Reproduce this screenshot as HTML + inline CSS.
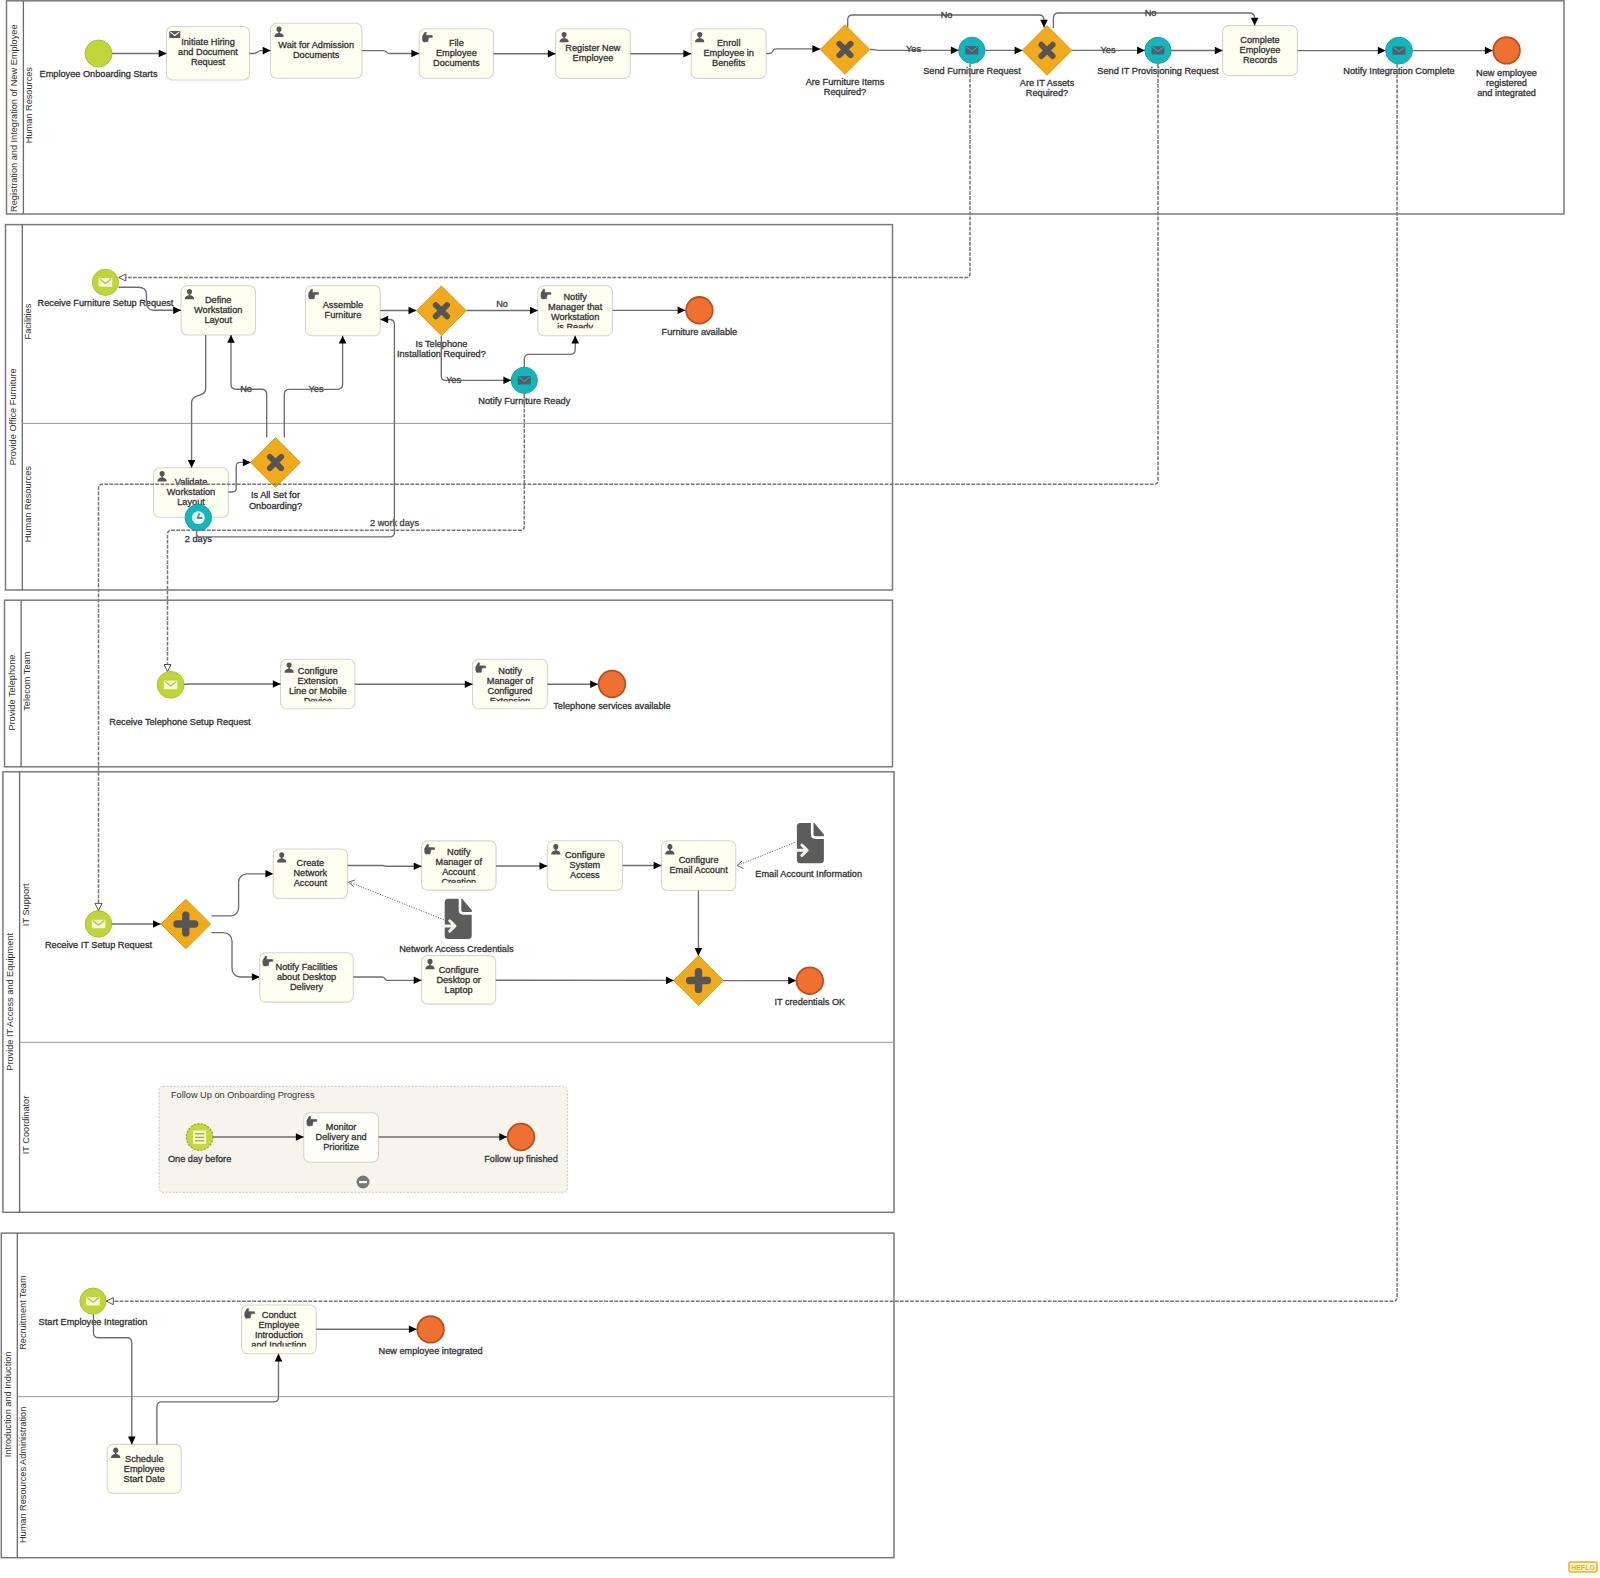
<!DOCTYPE html>
<html><head><meta charset="utf-8"><title>BPMN Employee Onboarding</title>
<style>html,body{margin:0;padding:0;background:#fff;width:1600px;height:1578px;overflow:hidden}svg{display:block}text{font-family:"Liberation Sans",sans-serif}</style>
</head><body>
<svg width="1600" height="1578" viewBox="0 0 1600 1578" font-family='&quot;Liberation Sans&quot;, sans-serif'><defs><clipPath id="c1"><rect x="537.80" y="285.70" width="74.70" height="42.60"/></clipPath><clipPath id="c2"><rect x="280.60" y="659.20" width="74.30" height="42.10"/></clipPath><clipPath id="c3"><rect x="472.60" y="659.20" width="74.80" height="42.10"/></clipPath><clipPath id="c4"><rect x="421.50" y="840.90" width="74.50" height="41.80"/></clipPath><clipPath id="c5"><rect x="241.60" y="1305.00" width="74.60" height="41.40"/></clipPath></defs><rect width="1600" height="1578" fill="#fff"/><rect x="6.50" y="0.80" width="1557.50" height="213.20" fill="none" stroke="#7a7a7a" stroke-width="1.5"/>
<line x1="23.40" y1="0.80" x2="23.40" y2="214.00" stroke="#6a6a6a" stroke-width="1.3"/>
<text x="13.95" y="118.20" font-size="9.2" text-anchor="middle" dominant-baseline="central" fill="#333" transform="rotate(-90 13.95 118.20)">Registration and Integration of New Employee</text>
<text x="29.40" y="105.10" font-size="9.2" text-anchor="middle" dominant-baseline="central" fill="#333" transform="rotate(-90 29.40 105.10)">Human Resources</text>
<rect x="5.50" y="224.60" width="887.00" height="365.40" fill="none" stroke="#7a7a7a" stroke-width="1.5"/>
<line x1="22.30" y1="224.60" x2="22.30" y2="590.00" stroke="#6a6a6a" stroke-width="1.3"/>
<text x="12.90" y="416.90" font-size="9.2" text-anchor="middle" dominant-baseline="central" fill="#333" transform="rotate(-90 12.90 416.90)">Provide Office Furniture</text>
<text x="28.30" y="321.60" font-size="9.2" text-anchor="middle" dominant-baseline="central" fill="#333" transform="rotate(-90 28.30 321.60)">Facilities</text>
<line x1="22.30" y1="423.40" x2="892.50" y2="423.40" stroke="#999" stroke-width="1"/>
<text x="28.30" y="504.20" font-size="9.2" text-anchor="middle" dominant-baseline="central" fill="#333" transform="rotate(-90 28.30 504.20)">Human Resources</text>
<rect x="4.50" y="600.20" width="888.00" height="166.60" fill="none" stroke="#7a7a7a" stroke-width="1.5"/>
<line x1="21.10" y1="600.20" x2="21.10" y2="766.80" stroke="#6a6a6a" stroke-width="1.3"/>
<text x="11.80" y="692.60" font-size="9.2" text-anchor="middle" dominant-baseline="central" fill="#333" transform="rotate(-90 11.80 692.60)">Provide Telephone</text>
<text x="27.10" y="681.20" font-size="9.2" text-anchor="middle" dominant-baseline="central" fill="#333" transform="rotate(-90 27.10 681.20)">Telecom Team</text>
<rect x="2.90" y="771.80" width="891.10" height="440.50" fill="none" stroke="#7a7a7a" stroke-width="1.5"/>
<line x1="19.60" y1="771.80" x2="19.60" y2="1212.30" stroke="#6a6a6a" stroke-width="1.3"/>
<text x="10.25" y="1001.85" font-size="9.2" text-anchor="middle" dominant-baseline="central" fill="#333" transform="rotate(-90 10.25 1001.85)">Provide IT Access and Equipment</text>
<text x="25.60" y="904.75" font-size="9.2" text-anchor="middle" dominant-baseline="central" fill="#333" transform="rotate(-90 25.60 904.75)">IT Support</text>
<line x1="19.60" y1="1042.30" x2="894.00" y2="1042.30" stroke="#999" stroke-width="1"/>
<text x="25.60" y="1125.00" font-size="9.2" text-anchor="middle" dominant-baseline="central" fill="#333" transform="rotate(-90 25.60 1125.00)">IT Coordinator</text>
<rect x="1.30" y="1233.10" width="892.70" height="324.60" fill="none" stroke="#7a7a7a" stroke-width="1.5"/>
<line x1="17.30" y1="1233.10" x2="17.30" y2="1557.70" stroke="#6a6a6a" stroke-width="1.3"/>
<text x="8.30" y="1404.40" font-size="9.2" text-anchor="middle" dominant-baseline="central" fill="#333" transform="rotate(-90 8.30 1404.40)">Introduction and Induction</text>
<text x="23.30" y="1312.60" font-size="9.2" text-anchor="middle" dominant-baseline="central" fill="#333" transform="rotate(-90 23.30 1312.60)">Recruitment Team</text>
<line x1="17.30" y1="1396.70" x2="894.00" y2="1396.70" stroke="#999" stroke-width="1"/>
<text x="23.30" y="1474.90" font-size="9.2" text-anchor="middle" dominant-baseline="central" fill="#333" transform="rotate(-90 23.30 1474.90)">Human Resources Administration</text>
<circle cx="98.50" cy="53.50" r="13.50" fill="#bfd639" stroke="#adc23a" stroke-width="1"/>
<text x="98.50" y="74.30" font-size="9.2" text-anchor="middle" dominant-baseline="central" fill="#333" stroke="#333" stroke-width="0.3">Employee Onboarding Starts</text>
<rect x="166.50" y="26.50" width="83.00" height="53.50" rx="6" fill="#fefef1" stroke="#d6d6cc" stroke-width="1.1"/>
<rect x="169.30" y="31.10" width="11.00" height="7.00" rx="0.8" fill="#555"/>
<path d="M170.30,31.90 L174.80,35.44 L179.30,31.90" fill="none" stroke="#fff" stroke-width="1.1"/>
<text x="208.00" y="42.45" font-size="9.2" text-anchor="middle" dominant-baseline="central" fill="#333" stroke="#333" stroke-width="0.3">Initiate Hiring</text>
<text x="208.00" y="52.45" font-size="9.2" text-anchor="middle" dominant-baseline="central" fill="#333" stroke="#333" stroke-width="0.3">and Document</text>
<text x="208.00" y="62.45" font-size="9.2" text-anchor="middle" dominant-baseline="central" fill="#333" stroke="#333" stroke-width="0.3">Request</text>
<rect x="270.50" y="23.30" width="91.40" height="55.00" rx="6" fill="#fefef1" stroke="#d6d6cc" stroke-width="1.1"/>
<ellipse cx="279.00" cy="29.20" rx="2.5" ry="2.7" fill="#555"/>
<rect x="278.20" y="31.30" width="1.6" height="2" fill="#555"/>
<path d="M274.40,36.90 C274.40,33.90 276.50,32.90 279.00,32.90 C281.50,32.90 283.60,33.90 283.60,36.90 Z" fill="#555"/>
<text x="316.20" y="45.00" font-size="9.2" text-anchor="middle" dominant-baseline="central" fill="#333" stroke="#333" stroke-width="0.3">Wait for Admission</text>
<text x="316.20" y="55.00" font-size="9.2" text-anchor="middle" dominant-baseline="central" fill="#333" stroke="#333" stroke-width="0.3">Documents</text>
<rect x="419.20" y="28.70" width="74.30" height="49.50" rx="6" fill="#fefef1" stroke="#d6d6cc" stroke-width="1.1"/>
<path d="M422.40,36.30 L424.80,32.30 L426.40,32.50 L425.80,35.30 L432.20,35.50 L432.40,37.30 L428.60,37.50 L427.80,41.70 L423.40,41.90 L422.40,40.10 Z" fill="#555" stroke="#555" stroke-width="0.6" stroke-linejoin="round"/>
<text x="456.35" y="42.65" font-size="9.2" text-anchor="middle" dominant-baseline="central" fill="#333" stroke="#333" stroke-width="0.3">File</text>
<text x="456.35" y="52.65" font-size="9.2" text-anchor="middle" dominant-baseline="central" fill="#333" stroke="#333" stroke-width="0.3">Employee</text>
<text x="456.35" y="62.65" font-size="9.2" text-anchor="middle" dominant-baseline="central" fill="#333" stroke="#333" stroke-width="0.3">Documents</text>
<rect x="555.60" y="28.70" width="74.70" height="49.70" rx="6" fill="#fefef1" stroke="#d6d6cc" stroke-width="1.1"/>
<ellipse cx="564.10" cy="34.60" rx="2.5" ry="2.7" fill="#555"/>
<rect x="563.30" y="36.70" width="1.6" height="2" fill="#555"/>
<path d="M559.50,42.30 C559.50,39.30 561.60,38.30 564.10,38.30 C566.60,38.30 568.70,39.30 568.70,42.30 Z" fill="#555"/>
<text x="592.95" y="47.75" font-size="9.2" text-anchor="middle" dominant-baseline="central" fill="#333" stroke="#333" stroke-width="0.3">Register New</text>
<text x="592.95" y="57.75" font-size="9.2" text-anchor="middle" dominant-baseline="central" fill="#333" stroke="#333" stroke-width="0.3">Employee</text>
<rect x="691.20" y="28.70" width="75.00" height="49.70" rx="6" fill="#fefef1" stroke="#d6d6cc" stroke-width="1.1"/>
<ellipse cx="699.70" cy="34.60" rx="2.5" ry="2.7" fill="#555"/>
<rect x="698.90" y="36.70" width="1.6" height="2" fill="#555"/>
<path d="M695.10,42.30 C695.10,39.30 697.20,38.30 699.70,38.30 C702.20,38.30 704.30,39.30 704.30,42.30 Z" fill="#555"/>
<text x="728.70" y="42.75" font-size="9.2" text-anchor="middle" dominant-baseline="central" fill="#333" stroke="#333" stroke-width="0.3">Enroll</text>
<text x="728.70" y="52.75" font-size="9.2" text-anchor="middle" dominant-baseline="central" fill="#333" stroke="#333" stroke-width="0.3">Employee in</text>
<text x="728.70" y="62.75" font-size="9.2" text-anchor="middle" dominant-baseline="central" fill="#333" stroke="#333" stroke-width="0.3">Benefits</text>
<path d="M820.20,49.50 L845.00,24.70 L869.80,49.50 L845.00,74.30 Z" fill="#f2aa1d" stroke="#e09812" stroke-width="1"/>
<path d="M839.30,43.80 L850.70,55.20 M850.70,43.80 L839.30,55.20" stroke="#555" stroke-width="5.8" stroke-linecap="round"/>
<text x="845.00" y="82.20" font-size="9.2" text-anchor="middle" dominant-baseline="central" fill="#333" stroke="#333" stroke-width="0.3">Are Furniture Items</text>
<text x="845.00" y="91.80" font-size="9.2" text-anchor="middle" dominant-baseline="central" fill="#333" stroke="#333" stroke-width="0.3">Required?</text>
<circle cx="971.80" cy="50.30" r="13.10" fill="#14b6be" stroke="#10a6ae" stroke-width="1"/>
<rect x="965.30" y="46.10" width="13.00" height="8.40" rx="0.8" fill="#585c68"/>
<path d="M966.30,46.90 L971.80,51.31 L977.30,46.90" fill="none" stroke="#1bb3ae" stroke-width="1.1"/>
<text x="972.00" y="71.20" font-size="9.2" text-anchor="middle" dominant-baseline="central" fill="#333" stroke="#333" stroke-width="0.3">Send Furniture Request</text>
<path d="M1022.20,50.40 L1047.00,25.60 L1071.80,50.40 L1047.00,75.20 Z" fill="#f2aa1d" stroke="#e09812" stroke-width="1"/>
<path d="M1041.30,44.70 L1052.70,56.10 M1052.70,44.70 L1041.30,56.10" stroke="#555" stroke-width="5.8" stroke-linecap="round"/>
<text x="1047.00" y="83.10" font-size="9.2" text-anchor="middle" dominant-baseline="central" fill="#333" stroke="#333" stroke-width="0.3">Are IT Assets</text>
<text x="1047.00" y="92.90" font-size="9.2" text-anchor="middle" dominant-baseline="central" fill="#333" stroke="#333" stroke-width="0.3">Required?</text>
<circle cx="1158.00" cy="50.40" r="13.10" fill="#14b6be" stroke="#10a6ae" stroke-width="1"/>
<rect x="1151.50" y="46.20" width="13.00" height="8.40" rx="0.8" fill="#585c68"/>
<path d="M1152.50,47.00 L1158.00,51.41 L1163.50,47.00" fill="none" stroke="#1bb3ae" stroke-width="1.1"/>
<text x="1158.00" y="71.20" font-size="9.2" text-anchor="middle" dominant-baseline="central" fill="#333" stroke="#333" stroke-width="0.3">Send IT Provisioning Request</text>
<rect x="1222.60" y="25.60" width="74.80" height="50.00" rx="6" fill="#fefef1" stroke="#d6d6cc" stroke-width="1.1"/>
<text x="1260.00" y="39.80" font-size="9.2" text-anchor="middle" dominant-baseline="central" fill="#333" stroke="#333" stroke-width="0.3">Complete</text>
<text x="1260.00" y="49.80" font-size="9.2" text-anchor="middle" dominant-baseline="central" fill="#333" stroke="#333" stroke-width="0.3">Employee</text>
<text x="1260.00" y="59.80" font-size="9.2" text-anchor="middle" dominant-baseline="central" fill="#333" stroke="#333" stroke-width="0.3">Records</text>
<circle cx="1399.00" cy="50.60" r="13.40" fill="#14b6be" stroke="#10a6ae" stroke-width="1"/>
<rect x="1392.50" y="46.40" width="13.00" height="8.40" rx="0.8" fill="#585c68"/>
<path d="M1393.50,47.20 L1399.00,51.61 L1404.50,47.20" fill="none" stroke="#1bb3ae" stroke-width="1.1"/>
<text x="1399.00" y="71.20" font-size="9.2" text-anchor="middle" dominant-baseline="central" fill="#333" stroke="#333" stroke-width="0.3">Notify Integration Complete</text>
<circle cx="1506.60" cy="50.40" r="13.30" fill="#f07031" stroke="#b9511f" stroke-width="1.8"/>
<text x="1506.50" y="72.60" font-size="9.2" text-anchor="middle" dominant-baseline="central" fill="#333" stroke="#333" stroke-width="0.3">New employee</text>
<text x="1506.50" y="82.60" font-size="9.2" text-anchor="middle" dominant-baseline="central" fill="#333" stroke="#333" stroke-width="0.3">registered</text>
<text x="1506.50" y="92.60" font-size="9.2" text-anchor="middle" dominant-baseline="central" fill="#333" stroke="#333" stroke-width="0.3">and integrated</text>
<path d="M112.00,53.50 L166.50,53.50" fill="none" stroke="#6e6e6e" stroke-width="1.35"/>
<path d="M166.50,53.50 L158.70,57.30 L158.70,49.70 Z" fill="#000"/>
<path d="M249.50,53.50 L254.00,53.50 Q256.00,53.50 257.44,52.11 L257.56,51.99 Q259.00,50.60 261.00,50.60 L270.50,50.60" fill="none" stroke="#6e6e6e" stroke-width="1.35"/>
<path d="M270.50,50.60 L262.70,54.40 L262.70,46.80 Z" fill="#000"/>
<path d="M362.00,50.60 L383.00,50.60 Q385.00,50.60 386.44,51.99 L386.56,52.11 Q388.00,53.50 390.00,53.50 L419.20,53.50" fill="none" stroke="#6e6e6e" stroke-width="1.35"/>
<path d="M419.20,53.50 L411.40,57.30 L411.40,49.70 Z" fill="#000"/>
<path d="M493.50,53.70 L555.60,53.70" fill="none" stroke="#6e6e6e" stroke-width="1.35"/>
<path d="M555.60,53.70 L547.80,57.50 L547.80,49.90 Z" fill="#000"/>
<path d="M630.30,53.70 L691.20,53.70" fill="none" stroke="#6e6e6e" stroke-width="1.35"/>
<path d="M691.20,53.70 L683.40,57.50 L683.40,49.90 Z" fill="#000"/>
<path d="M766.20,53.50 L769.50,53.50 Q771.50,53.50 772.46,51.74 L773.04,50.66 Q774.00,48.90 776.00,48.90 L820.20,48.90" fill="none" stroke="#6e6e6e" stroke-width="1.35"/>
<path d="M820.20,48.90 L812.40,52.70 L812.40,45.10 Z" fill="#000"/>
<path d="M870.00,49.50 L872.45,49.50 Q874.00,49.50 875.50,49.90 L875.50,49.90 Q877.00,50.30 878.55,50.30 L958.70,50.30" fill="none" stroke="#6e6e6e" stroke-width="1.35"/>
<path d="M958.70,50.30 L950.90,54.10 L950.90,46.50 Z" fill="#000"/>
<text x="913.50" y="49.40" font-size="9.2" text-anchor="middle" dominant-baseline="central" fill="#444" stroke="#444" stroke-width="0.3">Yes</text>
<path d="M847.70,27.00 L847.70,20.00 Q847.70,15.00 852.70,15.00 L1039.00,15.00 Q1044.00,15.00 1044.00,20.00 L1044.00,27.50" fill="none" stroke="#6e6e6e" stroke-width="1.35"/>
<path d="M1044.00,27.50 L1040.20,19.70 L1047.80,19.70 Z" fill="#000"/>
<text x="946.50" y="14.60" font-size="9.2" text-anchor="middle" dominant-baseline="central" fill="#444" stroke="#444" stroke-width="0.3">No</text>
<path d="M985.00,50.30 L1022.40,50.40" fill="none" stroke="#6e6e6e" stroke-width="1.35"/>
<path d="M1022.40,50.40 L1014.59,54.18 L1014.61,46.58 Z" fill="#000"/>
<path d="M1071.80,50.40 L1144.90,50.40" fill="none" stroke="#6e6e6e" stroke-width="1.35"/>
<path d="M1144.90,50.40 L1137.10,54.20 L1137.10,46.60 Z" fill="#000"/>
<text x="1108.00" y="50.00" font-size="9.2" text-anchor="middle" dominant-baseline="central" fill="#444" stroke="#444" stroke-width="0.3">Yes</text>
<path d="M1053.40,28.00 L1053.40,18.00 Q1053.40,13.00 1058.40,13.00 L1249.60,13.00 Q1254.60,13.00 1254.60,18.00 L1254.60,25.60" fill="none" stroke="#6e6e6e" stroke-width="1.35"/>
<path d="M1254.60,25.60 L1250.80,17.80 L1258.40,17.80 Z" fill="#000"/>
<text x="1150.60" y="12.80" font-size="9.2" text-anchor="middle" dominant-baseline="central" fill="#444" stroke="#444" stroke-width="0.3">No</text>
<path d="M1171.20,50.50 L1222.60,50.50" fill="none" stroke="#6e6e6e" stroke-width="1.35"/>
<path d="M1222.60,50.50 L1214.80,54.30 L1214.80,46.70 Z" fill="#000"/>
<path d="M1297.40,50.60 L1385.60,50.60" fill="none" stroke="#6e6e6e" stroke-width="1.35"/>
<path d="M1385.60,50.60 L1377.80,54.40 L1377.80,46.80 Z" fill="#000"/>
<path d="M1412.40,50.60 L1492.70,50.60" fill="none" stroke="#6e6e6e" stroke-width="1.35"/>
<path d="M1492.70,50.60 L1484.90,54.40 L1484.90,46.80 Z" fill="#000"/>
<circle cx="105.40" cy="282.30" r="13.10" fill="#bfd639" stroke="#adc23a" stroke-width="1"/>
<rect x="98.60" y="278.10" width="13.60" height="8.60" rx="0.8" fill="#f4f8d6"/>
<path d="M99.60,278.90 L105.40,283.43 L111.20,278.90" fill="none" stroke="#a9bf3a" stroke-width="1.1"/>
<text x="105.50" y="303.40" font-size="9.2" text-anchor="middle" dominant-baseline="central" fill="#333" stroke="#333" stroke-width="0.3">Receive Furniture Setup Request</text>
<rect x="181.00" y="285.70" width="74.40" height="49.30" rx="6" fill="#fefef1" stroke="#d6d6cc" stroke-width="1.1"/>
<ellipse cx="189.50" cy="291.60" rx="2.5" ry="2.7" fill="#555"/>
<rect x="188.70" y="293.70" width="1.6" height="2" fill="#555"/>
<path d="M184.90,299.30 C184.90,296.30 187.00,295.30 189.50,295.30 C192.00,295.30 194.10,296.30 194.10,299.30 Z" fill="#555"/>
<text x="218.20" y="299.55" font-size="9.2" text-anchor="middle" dominant-baseline="central" fill="#333" stroke="#333" stroke-width="0.3">Define</text>
<text x="218.20" y="309.55" font-size="9.2" text-anchor="middle" dominant-baseline="central" fill="#333" stroke="#333" stroke-width="0.3">Workstation</text>
<text x="218.20" y="319.55" font-size="9.2" text-anchor="middle" dominant-baseline="central" fill="#333" stroke="#333" stroke-width="0.3">Layout</text>
<rect x="305.50" y="285.70" width="74.80" height="50.00" rx="6" fill="#fefef1" stroke="#d6d6cc" stroke-width="1.1"/>
<path d="M308.70,293.30 L311.10,289.30 L312.70,289.50 L312.10,292.30 L318.50,292.50 L318.70,294.30 L314.90,294.50 L314.10,298.70 L309.70,298.90 L308.70,297.10 Z" fill="#555" stroke="#555" stroke-width="0.6" stroke-linejoin="round"/>
<text x="342.90" y="304.90" font-size="9.2" text-anchor="middle" dominant-baseline="central" fill="#333" stroke="#333" stroke-width="0.3">Assemble</text>
<text x="342.90" y="314.90" font-size="9.2" text-anchor="middle" dominant-baseline="central" fill="#333" stroke="#333" stroke-width="0.3">Furniture</text>
<path d="M416.60,310.70 L441.40,285.90 L466.20,310.70 L441.40,335.50 Z" fill="#f2aa1d" stroke="#e09812" stroke-width="1"/>
<path d="M435.70,305.00 L447.10,316.40 M447.10,305.00 L435.70,316.40" stroke="#555" stroke-width="5.8" stroke-linecap="round"/>
<text x="441.40" y="343.60" font-size="9.2" text-anchor="middle" dominant-baseline="central" fill="#333" stroke="#333" stroke-width="0.3">Is Telephone</text>
<text x="441.40" y="353.60" font-size="9.2" text-anchor="middle" dominant-baseline="central" fill="#333" stroke="#333" stroke-width="0.3">Installation Required?</text>
<rect x="537.80" y="285.70" width="74.70" height="50.00" rx="6" fill="#fefef1" stroke="#d6d6cc" stroke-width="1.1"/>
<path d="M541.00,293.30 L543.40,289.30 L545.00,289.50 L544.40,292.30 L550.80,292.50 L551.00,294.30 L547.20,294.50 L546.40,298.70 L542.00,298.90 L541.00,297.10 Z" fill="#555" stroke="#555" stroke-width="0.6" stroke-linejoin="round"/>
<g clip-path="url(#c1)">
<text x="575.15" y="297.30" font-size="9.2" text-anchor="middle" dominant-baseline="central" fill="#333" stroke="#333" stroke-width="0.3">Notify</text>
<text x="575.15" y="307.30" font-size="9.2" text-anchor="middle" dominant-baseline="central" fill="#333" stroke="#333" stroke-width="0.3">Manager that</text>
<text x="575.15" y="317.30" font-size="9.2" text-anchor="middle" dominant-baseline="central" fill="#333" stroke="#333" stroke-width="0.3">Workstation</text>
<text x="575.15" y="327.30" font-size="9.2" text-anchor="middle" dominant-baseline="central" fill="#333" stroke="#333" stroke-width="0.3">is Ready</text>
</g>
<circle cx="699.40" cy="310.30" r="13.30" fill="#f07031" stroke="#b9511f" stroke-width="1.8"/>
<text x="699.40" y="332.20" font-size="9.2" text-anchor="middle" dominant-baseline="central" fill="#333" stroke="#333" stroke-width="0.3">Furniture available</text>
<circle cx="524.30" cy="380.30" r="13.10" fill="#14b6be" stroke="#10a6ae" stroke-width="1"/>
<rect x="517.80" y="376.10" width="13.00" height="8.40" rx="0.8" fill="#585c68"/>
<path d="M518.80,376.90 L524.30,381.31 L529.80,376.90" fill="none" stroke="#1bb3ae" stroke-width="1.1"/>
<text x="524.30" y="401.20" font-size="9.2" text-anchor="middle" dominant-baseline="central" fill="#333" stroke="#333" stroke-width="0.3">Notify Furniture Ready</text>
<rect x="153.60" y="467.80" width="74.80" height="49.50" rx="6" fill="#fefef1" stroke="#d6d6cc" stroke-width="1.1"/>
<ellipse cx="162.10" cy="473.70" rx="2.5" ry="2.7" fill="#555"/>
<rect x="161.30" y="475.80" width="1.6" height="2" fill="#555"/>
<path d="M157.50,481.40 C157.50,478.40 159.60,477.40 162.10,477.40 C164.60,477.40 166.70,478.40 166.70,481.40 Z" fill="#555"/>
<text x="191.00" y="482.35" font-size="9.2" text-anchor="middle" dominant-baseline="central" fill="#333" stroke="#333" stroke-width="0.3">Validate</text>
<text x="191.00" y="492.35" font-size="9.2" text-anchor="middle" dominant-baseline="central" fill="#333" stroke="#333" stroke-width="0.3">Workstation</text>
<text x="191.00" y="502.35" font-size="9.2" text-anchor="middle" dominant-baseline="central" fill="#333" stroke="#333" stroke-width="0.3">Layout</text>
<path d="M250.70,462.50 L275.50,437.70 L300.30,462.50 L275.50,487.30 Z" fill="#f2aa1d" stroke="#e09812" stroke-width="1"/>
<path d="M269.80,456.80 L281.20,468.20 M281.20,456.80 L269.80,468.20" stroke="#555" stroke-width="5.8" stroke-linecap="round"/>
<text x="275.50" y="495.25" font-size="9.2" text-anchor="middle" dominant-baseline="central" fill="#333" stroke="#333" stroke-width="0.3">Is All Set for</text>
<text x="275.50" y="505.55" font-size="9.2" text-anchor="middle" dominant-baseline="central" fill="#333" stroke="#333" stroke-width="0.3">Onboarding?</text>
<text x="394.50" y="523.00" font-size="9.2" text-anchor="middle" dominant-baseline="central" fill="#444" stroke="#444" stroke-width="0.3">2 work days</text>
<text x="198.30" y="539.10" font-size="9.2" text-anchor="middle" dominant-baseline="central" fill="#333" stroke="#333" stroke-width="0.3">2 days</text>
<path d="M118.50,287.20 L139.06,287.20 Q142.00,287.20 144.25,289.10 L144.25,289.10 Q146.50,291.00 146.50,293.94 L146.50,303.10 Q146.50,306.00 148.50,308.10 L148.50,308.10 Q150.50,310.20 153.40,310.20 L181.00,310.20" fill="none" stroke="#6e6e6e" stroke-width="1.35"/>
<path d="M181.00,310.20 L173.20,314.00 L173.20,306.40 Z" fill="#000"/>
<path d="M380.30,310.50 L416.30,310.50" fill="none" stroke="#6e6e6e" stroke-width="1.35"/>
<path d="M416.30,310.50 L408.50,314.30 L408.50,306.70 Z" fill="#000"/>
<path d="M466.40,310.50 L537.80,310.50" fill="none" stroke="#6e6e6e" stroke-width="1.35"/>
<path d="M537.80,310.50 L530.00,314.30 L530.00,306.70 Z" fill="#000"/>
<text x="502.00" y="303.80" font-size="9.2" text-anchor="middle" dominant-baseline="central" fill="#444" stroke="#444" stroke-width="0.3">No</text>
<path d="M612.50,310.30 L685.40,310.30" fill="none" stroke="#6e6e6e" stroke-width="1.35"/>
<path d="M685.40,310.30 L677.60,314.10 L677.60,306.50 Z" fill="#000"/>
<path d="M441.30,335.70 L441.30,376.30 Q441.30,380.30 445.30,380.30 L511.20,380.30" fill="none" stroke="#6e6e6e" stroke-width="1.35"/>
<path d="M511.20,380.30 L503.40,384.10 L503.40,376.50 Z" fill="#000"/>
<text x="453.50" y="380.20" font-size="9.2" text-anchor="middle" dominant-baseline="central" fill="#444" stroke="#444" stroke-width="0.3">Yes</text>
<path d="M524.30,367.20 L524.30,359.40 Q524.30,354.40 529.30,354.40 L570.20,354.40 Q575.20,354.40 575.20,349.40 L575.20,335.70" fill="none" stroke="#6e6e6e" stroke-width="1.35"/>
<path d="M575.20,335.70 L579.00,343.50 L571.40,343.50 Z" fill="#000"/>
<path d="M205.70,335.00 L205.70,388.00 Q205.70,393.00 200.99,394.67 L196.31,396.33 Q191.60,398.00 191.60,403.00 L191.60,467.80" fill="none" stroke="#6e6e6e" stroke-width="1.35"/>
<path d="M191.60,467.80 L187.80,460.00 L195.40,460.00 Z" fill="#000"/>
<path d="M266.70,437.50 L266.70,394.20 Q266.70,389.20 261.70,389.20 L236.00,389.20 Q231.00,389.20 231.00,384.20 L231.00,335.00" fill="none" stroke="#6e6e6e" stroke-width="1.35"/>
<path d="M231.00,335.00 L234.80,342.80 L227.20,342.80 Z" fill="#000"/>
<text x="246.00" y="389.00" font-size="9.2" text-anchor="middle" dominant-baseline="central" fill="#444" stroke="#444" stroke-width="0.3">No</text>
<path d="M284.30,437.50 L284.30,394.30 Q284.30,389.30 289.30,389.30 L337.60,389.30 Q342.60,389.30 342.60,384.30 L342.60,335.70" fill="none" stroke="#6e6e6e" stroke-width="1.35"/>
<path d="M342.60,335.70 L346.40,343.50 L338.80,343.50 Z" fill="#000"/>
<text x="316.00" y="389.00" font-size="9.2" text-anchor="middle" dominant-baseline="central" fill="#444" stroke="#444" stroke-width="0.3">Yes</text>
<path d="M228.40,492.00 L232.30,492.00 Q236.20,492.00 236.20,488.10 L236.20,466.40 Q236.20,462.40 240.20,462.40 L250.70,462.40" fill="none" stroke="#6e6e6e" stroke-width="1.35"/>
<path d="M250.70,462.40 L242.90,466.20 L242.90,458.60 Z" fill="#000"/>
<path d="M196.60,531.00 L196.60,533.95 Q196.60,536.90 199.55,536.90 L389.40,536.90 Q394.40,536.90 394.40,531.90 L394.40,324.50 Q394.40,319.50 389.40,319.50 L380.30,319.50" fill="none" stroke="#6e6e6e" stroke-width="1.35"/>
<path d="M380.30,319.50 L388.10,315.70 L388.10,323.30 Z" fill="#000"/>
<circle cx="198.30" cy="517.60" r="13.20" fill="#14b6be" stroke="#10a6ae" stroke-width="1"/>
<circle cx="198.30" cy="517.60" r="6.4" fill="#f4fbfb"/>
<path d="M199.10,514.00 L197.70,517.80 L201.70,518.00" fill="none" stroke="#14a6ae" stroke-width="1.8" stroke-linecap="round"/>
<circle cx="170.60" cy="684.80" r="13.40" fill="#bfd639" stroke="#adc23a" stroke-width="1"/>
<rect x="163.80" y="680.60" width="13.60" height="8.60" rx="0.8" fill="#f4f8d6"/>
<path d="M164.80,681.40 L170.60,685.93 L176.40,681.40" fill="none" stroke="#a9bf3a" stroke-width="1.1"/>
<text x="180.00" y="721.70" font-size="9.2" text-anchor="middle" dominant-baseline="central" fill="#333" stroke="#333" stroke-width="0.3">Receive Telephone Setup Request</text>
<rect x="280.60" y="659.20" width="74.30" height="49.50" rx="6" fill="#fefef1" stroke="#d6d6cc" stroke-width="1.1"/>
<ellipse cx="289.10" cy="665.10" rx="2.5" ry="2.7" fill="#555"/>
<rect x="288.30" y="667.20" width="1.6" height="2" fill="#555"/>
<path d="M284.50,672.80 C284.50,669.80 286.60,668.80 289.10,668.80 C291.60,668.80 293.70,669.80 293.70,672.80 Z" fill="#555"/>
<g clip-path="url(#c2)">
<text x="317.75" y="671.15" font-size="9.2" text-anchor="middle" dominant-baseline="central" fill="#333" stroke="#333" stroke-width="0.3">Configure</text>
<text x="317.75" y="681.15" font-size="9.2" text-anchor="middle" dominant-baseline="central" fill="#333" stroke="#333" stroke-width="0.3">Extension</text>
<text x="317.75" y="691.15" font-size="9.2" text-anchor="middle" dominant-baseline="central" fill="#333" stroke="#333" stroke-width="0.3">Line or Mobile</text>
<text x="317.75" y="701.15" font-size="9.2" text-anchor="middle" dominant-baseline="central" fill="#333" stroke="#333" stroke-width="0.3">Device</text>
</g>
<rect x="472.60" y="659.20" width="74.80" height="49.50" rx="6" fill="#fefef1" stroke="#d6d6cc" stroke-width="1.1"/>
<path d="M475.80,666.80 L478.20,662.80 L479.80,663.00 L479.20,665.80 L485.60,666.00 L485.80,667.80 L482.00,668.00 L481.20,672.20 L476.80,672.40 L475.80,670.60 Z" fill="#555" stroke="#555" stroke-width="0.6" stroke-linejoin="round"/>
<g clip-path="url(#c3)">
<text x="510.00" y="671.15" font-size="9.2" text-anchor="middle" dominant-baseline="central" fill="#333" stroke="#333" stroke-width="0.3">Notify</text>
<text x="510.00" y="681.15" font-size="9.2" text-anchor="middle" dominant-baseline="central" fill="#333" stroke="#333" stroke-width="0.3">Manager of</text>
<text x="510.00" y="691.15" font-size="9.2" text-anchor="middle" dominant-baseline="central" fill="#333" stroke="#333" stroke-width="0.3">Configured</text>
<text x="510.00" y="701.15" font-size="9.2" text-anchor="middle" dominant-baseline="central" fill="#333" stroke="#333" stroke-width="0.3">Extension</text>
</g>
<circle cx="612.00" cy="684.00" r="13.30" fill="#f07031" stroke="#b9511f" stroke-width="1.8"/>
<text x="612.00" y="706.00" font-size="9.2" text-anchor="middle" dominant-baseline="central" fill="#333" stroke="#333" stroke-width="0.3">Telephone services available</text>
<path d="M184.00,684.50 L186.02,684.25 Q188.00,684.00 190.00,684.00 L280.60,684.00" fill="none" stroke="#6e6e6e" stroke-width="1.35"/>
<path d="M280.60,684.00 L272.80,687.80 L272.80,680.20 Z" fill="#000"/>
<path d="M354.90,684.20 L472.60,684.20" fill="none" stroke="#6e6e6e" stroke-width="1.35"/>
<path d="M472.60,684.20 L464.80,688.00 L464.80,680.40 Z" fill="#000"/>
<path d="M547.40,684.20 L598.00,684.20" fill="none" stroke="#6e6e6e" stroke-width="1.35"/>
<path d="M598.00,684.20 L590.20,688.00 L590.20,680.40 Z" fill="#000"/>
<circle cx="98.50" cy="923.90" r="13.30" fill="#bfd639" stroke="#adc23a" stroke-width="1"/>
<rect x="91.70" y="919.70" width="13.60" height="8.60" rx="0.8" fill="#f4f8d6"/>
<path d="M92.70,920.50 L98.50,925.03 L104.30,920.50" fill="none" stroke="#a9bf3a" stroke-width="1.1"/>
<text x="98.50" y="944.80" font-size="9.2" text-anchor="middle" dominant-baseline="central" fill="#333" stroke="#333" stroke-width="0.3">Receive IT Setup Request</text>
<path d="M161.00,924.00 L185.80,899.20 L210.60,924.00 L185.80,948.80 Z" fill="#f2aa1d" stroke="#e09812" stroke-width="1"/>
<path d="M176.90,924.00 L194.70,924.00 M185.80,915.10 L185.80,932.90" stroke="#555" stroke-width="7.4" stroke-linecap="round"/>
<path d="M111.80,924.00 L160.80,924.00" fill="none" stroke="#6e6e6e" stroke-width="1.35"/>
<path d="M160.80,924.00 L153.00,927.80 L153.00,920.20 Z" fill="#000"/>
<path d="M211.40,915.90 L230.64,915.90 Q234.00,915.90 236.30,913.45 L236.30,913.45 Q238.60,911.00 238.60,907.64 L238.60,881.89 Q238.60,878.50 241.05,876.15 L241.05,876.15 Q243.50,873.80 246.89,873.80 L273.20,873.80" fill="none" stroke="#6e6e6e" stroke-width="1.35"/>
<path d="M273.20,873.80 L265.40,877.60 L265.40,870.00 Z" fill="#000"/>
<path d="M211.40,932.60 L223.50,932.60 Q227.00,932.60 229.50,935.05 L229.50,935.05 Q232.00,937.50 232.00,941.00 L232.00,968.46 Q232.00,972.00 234.50,974.50 L234.50,974.50 Q237.00,977.00 240.54,977.00 L259.70,977.00" fill="none" stroke="#6e6e6e" stroke-width="1.35"/>
<path d="M259.70,977.00 L251.90,980.80 L251.90,973.20 Z" fill="#000"/>
<rect x="273.20" y="849.00" width="74.30" height="49.50" rx="6" fill="#fefef1" stroke="#d6d6cc" stroke-width="1.1"/>
<ellipse cx="281.70" cy="854.90" rx="2.5" ry="2.7" fill="#555"/>
<rect x="280.90" y="857.00" width="1.6" height="2" fill="#555"/>
<path d="M277.10,862.60 C277.10,859.60 279.20,858.60 281.70,858.60 C284.20,858.60 286.30,859.60 286.30,862.60 Z" fill="#555"/>
<text x="310.35" y="862.95" font-size="9.2" text-anchor="middle" dominant-baseline="central" fill="#333" stroke="#333" stroke-width="0.3">Create</text>
<text x="310.35" y="872.95" font-size="9.2" text-anchor="middle" dominant-baseline="central" fill="#333" stroke="#333" stroke-width="0.3">Network</text>
<text x="310.35" y="882.95" font-size="9.2" text-anchor="middle" dominant-baseline="central" fill="#333" stroke="#333" stroke-width="0.3">Account</text>
<rect x="421.50" y="840.90" width="74.50" height="49.20" rx="6" fill="#fefef1" stroke="#d6d6cc" stroke-width="1.1"/>
<path d="M424.70,848.50 L427.10,844.50 L428.70,844.70 L428.10,847.50 L434.50,847.70 L434.70,849.50 L430.90,849.70 L430.10,853.90 L425.70,854.10 L424.70,852.30 Z" fill="#555" stroke="#555" stroke-width="0.6" stroke-linejoin="round"/>
<g clip-path="url(#c4)">
<text x="458.75" y="851.80" font-size="9.2" text-anchor="middle" dominant-baseline="central" fill="#333" stroke="#333" stroke-width="0.3">Notify</text>
<text x="458.75" y="861.80" font-size="9.2" text-anchor="middle" dominant-baseline="central" fill="#333" stroke="#333" stroke-width="0.3">Manager of</text>
<text x="458.75" y="871.80" font-size="9.2" text-anchor="middle" dominant-baseline="central" fill="#333" stroke="#333" stroke-width="0.3">Account</text>
<text x="458.75" y="881.80" font-size="9.2" text-anchor="middle" dominant-baseline="central" fill="#333" stroke="#333" stroke-width="0.3">Creation</text>
</g>
<rect x="547.30" y="840.80" width="75.20" height="49.70" rx="6" fill="#fefef1" stroke="#d6d6cc" stroke-width="1.1"/>
<ellipse cx="555.80" cy="846.70" rx="2.5" ry="2.7" fill="#555"/>
<rect x="555.00" y="848.80" width="1.6" height="2" fill="#555"/>
<path d="M551.20,854.40 C551.20,851.40 553.30,850.40 555.80,850.40 C558.30,850.40 560.40,851.40 560.40,854.40 Z" fill="#555"/>
<text x="584.90" y="855.15" font-size="9.2" text-anchor="middle" dominant-baseline="central" fill="#333" stroke="#333" stroke-width="0.3">Configure</text>
<text x="584.90" y="865.15" font-size="9.2" text-anchor="middle" dominant-baseline="central" fill="#333" stroke="#333" stroke-width="0.3">System</text>
<text x="584.90" y="875.15" font-size="9.2" text-anchor="middle" dominant-baseline="central" fill="#333" stroke="#333" stroke-width="0.3">Access</text>
<rect x="661.40" y="840.80" width="74.40" height="49.70" rx="6" fill="#fefef1" stroke="#d6d6cc" stroke-width="1.1"/>
<ellipse cx="669.90" cy="846.70" rx="2.5" ry="2.7" fill="#555"/>
<rect x="669.10" y="848.80" width="1.6" height="2" fill="#555"/>
<path d="M665.30,854.40 C665.30,851.40 667.40,850.40 669.90,850.40 C672.40,850.40 674.50,851.40 674.50,854.40 Z" fill="#555"/>
<text x="698.60" y="860.35" font-size="9.2" text-anchor="middle" dominant-baseline="central" fill="#333" stroke="#333" stroke-width="0.3">Configure</text>
<text x="698.60" y="870.35" font-size="9.2" text-anchor="middle" dominant-baseline="central" fill="#333" stroke="#333" stroke-width="0.3">Email Account</text>
<rect x="259.70" y="952.70" width="93.60" height="49.40" rx="6" fill="#fefef1" stroke="#d6d6cc" stroke-width="1.1"/>
<path d="M262.90,960.30 L265.30,956.30 L266.90,956.50 L266.30,959.30 L272.70,959.50 L272.90,961.30 L269.10,961.50 L268.30,965.70 L263.90,965.90 L262.90,964.10 Z" fill="#555" stroke="#555" stroke-width="0.6" stroke-linejoin="round"/>
<text x="306.50" y="966.60" font-size="9.2" text-anchor="middle" dominant-baseline="central" fill="#333" stroke="#333" stroke-width="0.3">Notify Facilities</text>
<text x="306.50" y="976.60" font-size="9.2" text-anchor="middle" dominant-baseline="central" fill="#333" stroke="#333" stroke-width="0.3">about Desktop</text>
<text x="306.50" y="986.60" font-size="9.2" text-anchor="middle" dominant-baseline="central" fill="#333" stroke="#333" stroke-width="0.3">Delivery</text>
<rect x="421.50" y="955.60" width="74.20" height="48.50" rx="6" fill="#fefef1" stroke="#d6d6cc" stroke-width="1.1"/>
<ellipse cx="430.00" cy="961.50" rx="2.5" ry="2.7" fill="#555"/>
<rect x="429.20" y="963.60" width="1.6" height="2" fill="#555"/>
<path d="M425.40,969.20 C425.40,966.20 427.50,965.20 430.00,965.20 C432.50,965.20 434.60,966.20 434.60,969.20 Z" fill="#555"/>
<text x="458.60" y="969.55" font-size="9.2" text-anchor="middle" dominant-baseline="central" fill="#333" stroke="#333" stroke-width="0.3">Configure</text>
<text x="458.60" y="979.55" font-size="9.2" text-anchor="middle" dominant-baseline="central" fill="#333" stroke="#333" stroke-width="0.3">Desktop or</text>
<text x="458.60" y="989.55" font-size="9.2" text-anchor="middle" dominant-baseline="central" fill="#333" stroke="#333" stroke-width="0.3">Laptop</text>
<path d="M448.20,898.75 L462.20,898.75 L471.70,910.25 L471.70,935.55 Q471.70,939.05 468.20,939.05 L448.20,939.05 Q444.70,939.05 444.70,935.55 L444.70,902.25 Q444.70,898.75 448.20,898.75 Z" fill="#5c5c5c"/>
<path d="M460.00,897.75 L460.00,910.25 Q460.00,913.35 463.10,913.35 L472.70,913.35" fill="none" stroke="#fff" stroke-width="2.6"/>
<path d="M442.50,925.95 L454.20,925.95 M449.70,920.75 L455.00,925.95 L449.70,931.15" fill="none" stroke="#f4f4ee" stroke-width="3" stroke-linecap="round" stroke-linejoin="round"/>
<text x="456.40" y="949.40" font-size="9.2" text-anchor="middle" dominant-baseline="central" fill="#333" stroke="#333" stroke-width="0.3">Network Access Credentials</text>
<path d="M800.40,823.00 L814.40,823.00 L823.90,834.50 L823.90,859.80 Q823.90,863.30 820.40,863.30 L800.40,863.30 Q796.90,863.30 796.90,859.80 L796.90,826.50 Q796.90,823.00 800.40,823.00 Z" fill="#5c5c5c"/>
<path d="M812.20,822.00 L812.20,834.50 Q812.20,837.60 815.30,837.60 L824.90,837.60" fill="none" stroke="#fff" stroke-width="2.6"/>
<path d="M794.70,850.20 L806.40,850.20 M801.90,845.00 L807.20,850.20 L801.90,855.40" fill="none" stroke="#f4f4ee" stroke-width="3" stroke-linecap="round" stroke-linejoin="round"/>
<text x="808.70" y="874.00" font-size="9.2" text-anchor="middle" dominant-baseline="central" fill="#333" stroke="#333" stroke-width="0.3">Email Account Information</text>
<path d="M673.70,980.50 L698.50,955.70 L723.30,980.50 L698.50,1005.30 Z" fill="#f2aa1d" stroke="#e09812" stroke-width="1"/>
<path d="M689.60,980.50 L707.40,980.50 M698.50,971.60 L698.50,989.40" stroke="#555" stroke-width="7.4" stroke-linecap="round"/>
<circle cx="809.80" cy="980.70" r="13.30" fill="#f07031" stroke="#b9511f" stroke-width="1.8"/>
<text x="809.80" y="1002.00" font-size="9.2" text-anchor="middle" dominant-baseline="central" fill="#333" stroke="#333" stroke-width="0.3">IT credentials OK</text>
<text x="371.00" y="1001.00" font-size="9.2" text-anchor="middle" dominant-baseline="central" fill="#333" stroke="#333" stroke-width="0.3"></text>
<path d="M347.50,865.50 L382.96,865.50 Q383.70,865.50 384.35,865.85 L384.35,865.85 Q385.00,866.20 385.74,866.20 L421.50,866.20" fill="none" stroke="#6e6e6e" stroke-width="1.35"/>
<path d="M421.50,866.20 L413.70,870.00 L413.70,862.40 Z" fill="#000"/>
<path d="M496.00,866.00 L547.30,866.00" fill="none" stroke="#6e6e6e" stroke-width="1.35"/>
<path d="M547.30,866.00 L539.50,869.80 L539.50,862.20 Z" fill="#000"/>
<path d="M622.50,865.50 L661.40,865.50" fill="none" stroke="#6e6e6e" stroke-width="1.35"/>
<path d="M661.40,865.50 L653.60,869.30 L653.60,861.70 Z" fill="#000"/>
<path d="M698.40,890.50 L698.40,955.70" fill="none" stroke="#6e6e6e" stroke-width="1.35"/>
<path d="M698.40,955.70 L694.60,947.90 L702.20,947.90 Z" fill="#000"/>
<path d="M353.30,977.00 L382.20,977.00 Q383.70,977.00 384.56,978.23 L385.14,979.07 Q386.00,980.30 387.50,980.30 L421.50,980.30" fill="none" stroke="#6e6e6e" stroke-width="1.35"/>
<path d="M421.50,980.30 L413.70,984.10 L413.70,976.50 Z" fill="#000"/>
<path d="M495.70,980.20 L673.80,980.40" fill="none" stroke="#6e6e6e" stroke-width="1.35"/>
<path d="M673.80,980.40 L666.00,984.19 L666.00,976.59 Z" fill="#000"/>
<path d="M723.20,980.60 L796.00,980.60" fill="none" stroke="#6e6e6e" stroke-width="1.35"/>
<path d="M796.00,980.60 L788.20,984.40 L788.20,976.80 Z" fill="#000"/>
<path d="M443.8,919.8 L349,882" fill="none" stroke="#6a6a6a" stroke-width="1" stroke-dasharray="1.2 1.4"/>
<path d="M355,880 L348.5,882 L353.5,886.5" fill="none" stroke="#666" stroke-width="1"/>
<path d="M794.8,842.4 L737.5,865.5" fill="none" stroke="#6a6a6a" stroke-width="1" stroke-dasharray="1.2 1.4"/>
<path d="M742,861 L737,865.5 L743.5,868.5" fill="none" stroke="#666" stroke-width="1"/>
<rect x="159.1" y="1086.3" width="408.3" height="106" rx="4" fill="#f6f4ec" stroke="#c9c9c0" stroke-width="1" stroke-dasharray="2 1.5"/>
<text x="171" y="1095.3" font-size="9.2" dominant-baseline="central" fill="#333">Follow Up on Onboarding Progress</text>
<circle cx="199.60" cy="1137.00" r="13.20" fill="#c2da3c" stroke="#98ab3a" stroke-width="1.4" stroke-dasharray="2.2 1.3"/>
<rect x="193.10" y="1130.60" width="13" height="13.2" fill="#f4f9d2"/>
<line x1="195.00" y1="1133.80" x2="204.20" y2="1133.80" stroke="#9fb04e" stroke-width="1.4"/>
<line x1="195.00" y1="1137.40" x2="204.20" y2="1137.40" stroke="#9fb04e" stroke-width="1.4"/>
<line x1="195.00" y1="1140.80" x2="204.20" y2="1140.80" stroke="#9fb04e" stroke-width="1.4"/>
<text x="199.60" y="1158.60" font-size="9.2" text-anchor="middle" dominant-baseline="central" fill="#333" stroke="#333" stroke-width="0.3">One day before</text>
<rect x="303.70" y="1112.70" width="74.80" height="49.50" rx="6" fill="#fdfdf9" stroke="#d6d6cc" stroke-width="1.1"/>
<path d="M306.90,1120.30 L309.30,1116.30 L310.90,1116.50 L310.30,1119.30 L316.70,1119.50 L316.90,1121.30 L313.10,1121.50 L312.30,1125.70 L307.90,1125.90 L306.90,1124.10 Z" fill="#555" stroke="#555" stroke-width="0.6" stroke-linejoin="round"/>
<text x="341.10" y="1127.25" font-size="9.2" text-anchor="middle" dominant-baseline="central" fill="#333" stroke="#333" stroke-width="0.3">Monitor</text>
<text x="341.10" y="1137.25" font-size="9.2" text-anchor="middle" dominant-baseline="central" fill="#333" stroke="#333" stroke-width="0.3">Delivery and</text>
<text x="341.10" y="1147.25" font-size="9.2" text-anchor="middle" dominant-baseline="central" fill="#333" stroke="#333" stroke-width="0.3">Prioritize</text>
<circle cx="521.00" cy="1137.00" r="13.30" fill="#f07031" stroke="#b9511f" stroke-width="1.8"/>
<text x="521.00" y="1159.00" font-size="9.2" text-anchor="middle" dominant-baseline="central" fill="#333" stroke="#333" stroke-width="0.3">Follow up finished</text>
<path d="M213.10,1137.00 L303.70,1137.00" fill="none" stroke="#6e6e6e" stroke-width="1.35"/>
<path d="M303.70,1137.00 L295.90,1140.80 L295.90,1133.20 Z" fill="#000"/>
<path d="M378.50,1137.00 L507.10,1137.00" fill="none" stroke="#6e6e6e" stroke-width="1.35"/>
<path d="M507.10,1137.00 L499.30,1140.80 L499.30,1133.20 Z" fill="#000"/>
<circle cx="363" cy="1182" r="6.5" fill="#777"/>
<rect x="359" y="1181" width="8" height="2.2" fill="#fff"/>
<circle cx="93.00" cy="1301.10" r="13.10" fill="#bfd639" stroke="#adc23a" stroke-width="1"/>
<rect x="86.20" y="1296.90" width="13.60" height="8.60" rx="0.8" fill="#f4f8d6"/>
<path d="M87.20,1297.70 L93.00,1302.23 L98.80,1297.70" fill="none" stroke="#a9bf3a" stroke-width="1.1"/>
<text x="93.00" y="1322.00" font-size="9.2" text-anchor="middle" dominant-baseline="central" fill="#333" stroke="#333" stroke-width="0.3">Start Employee Integration</text>
<rect x="241.60" y="1305.00" width="74.60" height="48.80" rx="6" fill="#fefef1" stroke="#d6d6cc" stroke-width="1.1"/>
<path d="M244.80,1312.60 L247.20,1308.60 L248.80,1308.80 L248.20,1311.60 L254.60,1311.80 L254.80,1313.60 L251.00,1313.80 L250.20,1318.00 L245.80,1318.20 L244.80,1316.40 Z" fill="#555" stroke="#555" stroke-width="0.6" stroke-linejoin="round"/>
<g clip-path="url(#c5)">
<text x="278.90" y="1315.40" font-size="9.2" text-anchor="middle" dominant-baseline="central" fill="#333" stroke="#333" stroke-width="0.3">Conduct</text>
<text x="278.90" y="1325.40" font-size="9.2" text-anchor="middle" dominant-baseline="central" fill="#333" stroke="#333" stroke-width="0.3">Employee</text>
<text x="278.90" y="1335.40" font-size="9.2" text-anchor="middle" dominant-baseline="central" fill="#333" stroke="#333" stroke-width="0.3">Introduction</text>
<text x="278.90" y="1345.40" font-size="9.2" text-anchor="middle" dominant-baseline="central" fill="#333" stroke="#333" stroke-width="0.3">and Induction</text>
</g>
<circle cx="430.60" cy="1329.40" r="13.30" fill="#f07031" stroke="#b9511f" stroke-width="1.8"/>
<text x="430.60" y="1351.20" font-size="9.2" text-anchor="middle" dominant-baseline="central" fill="#333" stroke="#333" stroke-width="0.3">New employee integrated</text>
<rect x="107.20" y="1444.40" width="74.00" height="49.00" rx="6" fill="#fefef1" stroke="#d6d6cc" stroke-width="1.1"/>
<ellipse cx="115.70" cy="1450.30" rx="2.5" ry="2.7" fill="#555"/>
<rect x="114.90" y="1452.40" width="1.6" height="2" fill="#555"/>
<path d="M111.10,1458.00 C111.10,1455.00 113.20,1454.00 115.70,1454.00 C118.20,1454.00 120.30,1455.00 120.30,1458.00 Z" fill="#555"/>
<text x="144.20" y="1458.60" font-size="9.2" text-anchor="middle" dominant-baseline="central" fill="#333" stroke="#333" stroke-width="0.3">Schedule</text>
<text x="144.20" y="1468.60" font-size="9.2" text-anchor="middle" dominant-baseline="central" fill="#333" stroke="#333" stroke-width="0.3">Employee</text>
<text x="144.20" y="1478.60" font-size="9.2" text-anchor="middle" dominant-baseline="central" fill="#333" stroke="#333" stroke-width="0.3">Start Date</text>
<path d="M93.50,1314.20 L93.50,1332.70 Q93.50,1337.70 98.50,1337.70 L126.80,1337.70 Q131.80,1337.70 131.80,1342.70 L131.80,1444.40" fill="none" stroke="#6e6e6e" stroke-width="1.35"/>
<path d="M131.80,1444.40 L128.00,1436.60 L135.60,1436.60 Z" fill="#000"/>
<path d="M156.90,1444.40 L156.90,1406.90 Q156.90,1401.90 161.90,1401.90 L273.50,1401.90 Q278.50,1401.90 278.50,1396.90 L278.50,1353.80" fill="none" stroke="#6e6e6e" stroke-width="1.35"/>
<path d="M278.50,1353.80 L282.30,1361.60 L274.70,1361.60 Z" fill="#000"/>
<path d="M316.20,1329.20 L416.70,1329.20" fill="none" stroke="#6e6e6e" stroke-width="1.35"/>
<path d="M416.70,1329.20 L408.90,1333.00 L408.90,1325.40 Z" fill="#000"/>
<path d="M970.00,63.50 L970.00,273.50 Q970.00,277.50 966.00,277.50 L118.80,277.50" fill="none" stroke="#777" stroke-width="1.5" stroke-dasharray="3.8 1.3"/>
<path d="M118.80,277.50 L125.80,274.00 L125.80,281.00 Z" fill="#fff" stroke="#555" stroke-width="1"/>
<path d="M1158.00,63.60 L1158.00,480.20 Q1158.00,484.20 1154.00,484.20 L102.50,484.20 Q98.50,484.20 98.50,488.20 L98.50,910.40" fill="none" stroke="#777" stroke-width="1.5" stroke-dasharray="3.8 1.3"/>
<path d="M98.50,910.40 L95.00,903.40 L102.00,903.40 Z" fill="#fff" stroke="#555" stroke-width="1"/>
<path d="M524.30,393.40 L524.30,526.20 Q524.30,530.20 520.30,530.20 L171.50,530.20 Q167.50,530.20 167.50,534.20 L167.50,671.50" fill="none" stroke="#777" stroke-width="1.5" stroke-dasharray="3.8 1.3"/>
<path d="M167.50,671.50 L164.00,664.50 L171.00,664.50 Z" fill="#fff" stroke="#555" stroke-width="1"/>
<path d="M1397.10,64.00 L1397.10,1297.20 Q1397.10,1301.20 1393.10,1301.20 L106.30,1301.20" fill="none" stroke="#777" stroke-width="1.5" stroke-dasharray="3.8 1.3"/>
<path d="M106.30,1301.20 L113.30,1297.70 L113.30,1304.70 Z" fill="#fff" stroke="#555" stroke-width="1"/>
<rect x="1569" y="1562" width="28" height="10" rx="2" fill="#fff7d0" stroke="#f2ac2a" stroke-width="1.5"/>
<text x="1583" y="1567.3" font-size="7" font-weight="bold" text-anchor="middle" dominant-baseline="central" fill="#f2ac2a">HEFLO</text></svg>
</body></html>
